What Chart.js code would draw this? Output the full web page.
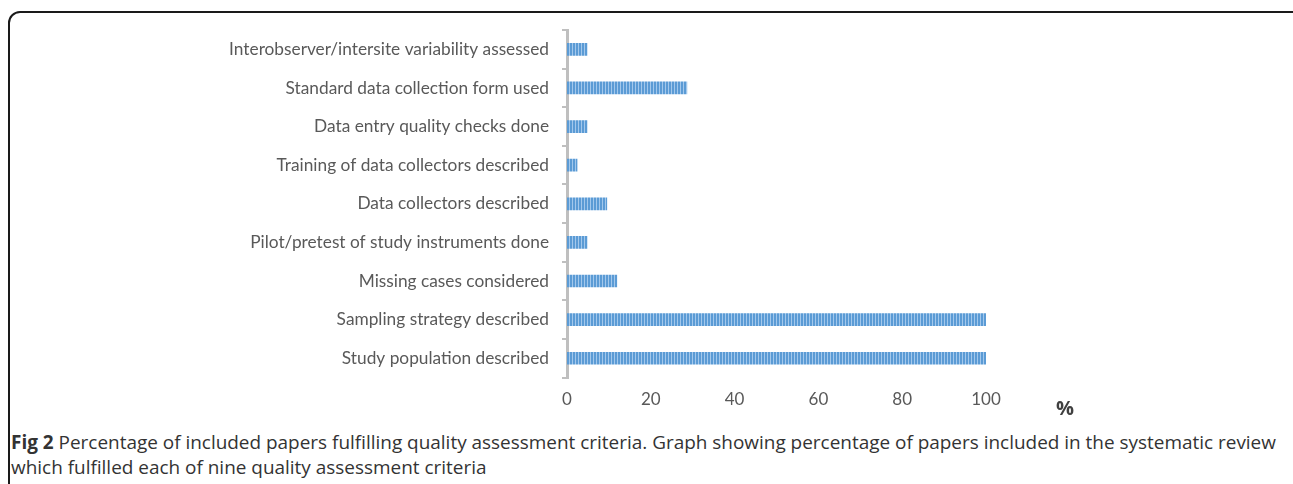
<!DOCTYPE html>
<html>
<head>
<meta charset="utf-8">
<script src="https://cdn.jsdelivr.net/npm/chart.js@4/dist/chart.umd.min.js"></script>
<style>
  html, body { margin: 0; padding: 0; background: #fff; width: 1293px; height: 484px; overflow: hidden; }
  #frame { position: absolute; left: 8px; top: 11px; width: 1320px; height: 520px;
           border: 2px solid #1a1a1a; border-radius: 12px; box-sizing: border-box; }
  #wrap { position: absolute; left: 0; top: 0; width: 1293px; height: 422px; }
  #pct { position: absolute; left: 1056px; top: 394px; font-family: "Open Sans", sans-serif;
         font-weight: bold; font-size: 20px; color: #404040; }
  #caption { position: absolute; left: 11px; top: 430px; width: 1285px; font-family: "Open Sans", sans-serif;
             font-size: 18.95px; line-height: 25px; color: #333; white-space: nowrap; }
</style>
</head>
<body>
<div id="frame"></div>
<div id="wrap"><canvas id="c" width="1293" height="422"></canvas></div>
<div id="pct">%</div>
<div id="caption"><b>Fig 2</b> Percentage of included papers fulfilling quality assessment criteria. Graph showing percentage of papers included in the systematic review<br>which fulfilled each of nine quality assessment criteria</div>
<script>
const categories = [
  "Interobserver/intersite variability assessed",
  "Standard data collection form used",
  "Data entry quality checks done",
  "Training of data collectors described",
  "Data collectors described",
  "Pilot/pretest of study instruments done",
  "Missing cases considered",
  "Sampling strategy described",
  "Study population described"
];
const percentValues = [4.8, 28.6, 4.8, 2.4, 9.5, 4.8, 11.9, 100, 100];
const xTickValues = [0, 20, 40, 60, 80, 100];

// striped fill like the original bars
const pc = document.createElement('canvas');
pc.width = 3; pc.height = 4;
const pctx = pc.getContext('2d');
pctx.fillStyle = '#a3c8ec';
pctx.fillRect(0, 0, 3, 4);
pctx.fillStyle = '#5b9bd5';
pctx.fillRect(0, 0, 2, 4);
const ctx = document.getElementById('c').getContext('2d');
const stripe = ctx.createPattern(pc, 'repeat');

new Chart(ctx, {
  type: 'bar',
  data: {
    labels: categories,
    datasets: [{
      data: percentValues,
      backgroundColor: stripe,
      borderWidth: 0,
      barThickness: 12
    }]
  },
  options: {
    indexAxis: 'y',
    responsive: false,
    animation: false,
    layout: { padding: { left: 0, right: 307, top: 30, bottom: 0 } },
    plugins: { legend: { display: false }, tooltip: { enabled: false } },
    scales: {
      x: {
        min: 0, max: 100,
        afterBuildTicks: (s) => { s.ticks = xTickValues.map(v => ({ value: v })); },
        grid: { display: false, drawTicks: false },
        border: { display: false },
        ticks: { color: '#595959', font: { family: 'Lato', size: 17 }, padding: 12 }
      },
      y: {
        z: 1,
        afterFit: (s) => { s.width = 567; },
        grid: { drawOnChartArea: false, drawTicks: true, tickLength: 5, color: '#bfbfbf', lineWidth: 2, offset: true },
        border: { display: true, color: '#bfbfbf', width: 3 },
        ticks: { color: '#595959', font: { family: 'Lato', size: 17.3 }, padding: 13 }
      }
    }
  }
});
</script>
</body>
</html>
